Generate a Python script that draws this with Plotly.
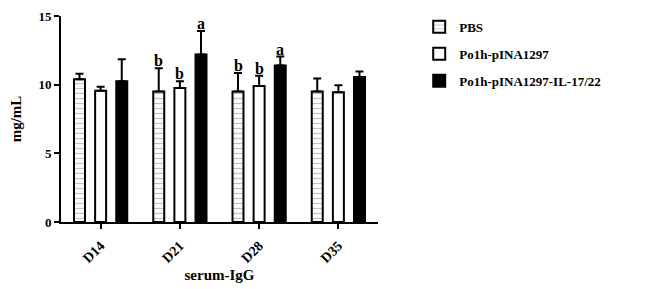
import plotly.graph_objects as go

categories = ["D14", "D21", "D28", "D35"]
groups = ["PBS", "Po1h-pINA1297", "Po1h-pINA1297-IL-17/22"]
pbs_mean = [10.4, 9.5, 9.5, 9.5]
pbs_err = [0.4, 1.7, 1.35, 0.95]
po1h_mean = [9.55, 9.75, 9.9, 9.45]
po1h_err = [0.3, 0.5, 0.75, 0.5]
il_mean = [10.25, 12.2, 11.4, 10.55]
il_err = [1.6, 1.7, 0.65, 0.4]
letters_pbs = ["", "b", "b", ""]
letters_po1h = ["", "b", "b", ""]
letters_il = ["", "a", "a", ""]

FONT = "Liberation Serif"
fig = go.Figure()

series = [
    (groups[0], pbs_mean, pbs_err, dict(color="white", pattern=dict(shape="-", fgcolor="#888", bgcolor="white", size=5, solidity=0.25))),
    (groups[1], po1h_mean, po1h_err, dict(color="white")),
    (groups[2], il_mean, il_err, dict(color="black")),
]
for i, (name, m, e, mk) in enumerate(series):
    mk = dict(mk)
    mk["line"] = dict(color="black", width=2)
    fig.add_trace(go.Bar(
        x=categories, y=m, name=name, marker=mk, legendgroup=name,
        error_y=dict(type="data", array=e, arrayminus=[0] * len(e), color="black", thickness=2, width=4),
    ))

shifts = [-21, 0, 21]
for letters, means, errs, sh in [(letters_pbs, pbs_mean, pbs_err, shifts[0]),
                                  (letters_po1h, po1h_mean, po1h_err, shifts[1]),
                                  (letters_il, il_mean, il_err, shifts[2])]:
    for c, l, m, e in zip(categories, letters, means, errs):
        if l:
            fig.add_annotation(x=c, y=m + e, text="<b>" + l + "</b>", showarrow=False,
                               xshift=sh, yanchor="bottom", yshift=-3,
                               font=dict(family=FONT, size=16, color="black"))

fig.update_layout(
    width=646, height=281,
    margin=dict(l=53, r=276, t=8, b=67, autoexpand=False),
    paper_bgcolor="white", plot_bgcolor="white",
    barmode="group", bargap=0.2, bargroupgap=0.48,
    font=dict(family=FONT, color="black", size=12, weight="bold"),
    showlegend=True,
    legend=dict(x=1.13, y=1.02, xanchor="left", yanchor="top", tracegroupgap=7,
                font=dict(family=FONT, size=13, weight="bold", color="black"),
                bgcolor="rgba(0,0,0,0)"),
    xaxis=dict(type="category", range=[-0.5, 3.5], showline=True, linecolor="black", linewidth=2,
               ticks="outside", ticklen=5, tickwidth=2, tickcolor="black", tickangle=-45,
               automargin=False, ticklabelstandoff=3,
               tickfont=dict(family=FONT, size=14, weight="bold", color="black"),
               title=dict(text="serum-IgG", font=dict(family=FONT, size=15, weight="bold", color="black"), standoff=5),
               showgrid=False, zeroline=False),
    yaxis=dict(range=[0, 15], dtick=5, showline=True, linecolor="black", linewidth=2,
               ticks="outside", ticklen=5, tickwidth=2, tickcolor="black",
               automargin=False, ticklabeloverflow="allow",
               tickfont=dict(family=FONT, size=13, weight="bold", color="black"),
               title=dict(text="mg/mL", font=dict(family=FONT, size=15, weight="bold", color="black"), standoff=14),
               showgrid=False, zeroline=False),
)

fig.write_html("out.html")
